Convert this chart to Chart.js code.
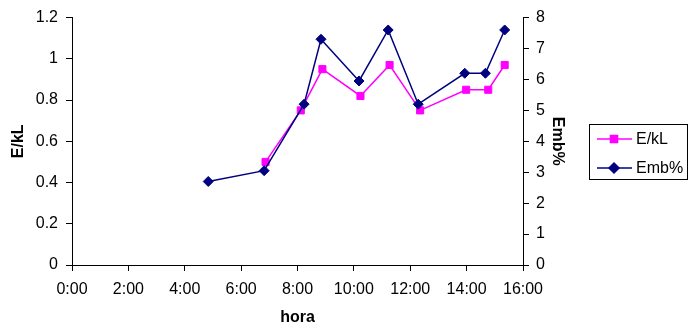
<!DOCTYPE html>
<html>
<head>
<meta charset="utf-8">
<script src="https://cdn.jsdelivr.net/npm/chart.js@4"></script>
<style>
  html, body { margin: 0; padding: 0; background: #fff; }
  #wrap { width: 689px; height: 327px; }
</style>
</head>
<body>
<div id="wrap"><canvas id="chart" width="689" height="327"></canvas></div>
<script>
// values
const eklTimes = ['6:52', '8:07', '8:53', '10:14', '11:16', '12:21', '13:59', '14:46', '15:21'];
const eklValues = [0.5, 0.75, 0.95, 0.82, 0.97, 0.75, 0.85, 0.85, 0.97];
const embTimes = ['4:50', '6:49', '8:14', '8:50', '10:11', '11:13', '12:17', '13:56', '14:40', '15:21'];
const embValues = [2.7, 3.05, 5.2, 7.3, 5.95, 7.6, 5.2, 6.2, 6.2, 7.6];
const hourTicks = [0, 2, 4, 6, 8, 10, 12, 14, 16];

const FONT = 'Liberation Sans, Arial, sans-serif';
const PINK = '#ff00ff';
const NAVY = '#000080';

function toHours(t) {
  const [h, m] = t.split(':').map(Number);
  return h + m / 60;
}
const toPoints = (times, vals) => times.map((t, i) => ({ x: toHours(t), y: vals[i] }));

// legend drawn by hand: line + marker + label, inside a framed box
const boxLegend = {
  id: 'boxLegend',
  afterDraw(chart) {
    const ctx = chart.ctx;
    const x0 = 589.5, y0 = 124.5, w = 98, h = 55;
    ctx.save();
    ctx.strokeStyle = '#000';
    ctx.lineWidth = 1;
    ctx.strokeRect(x0, y0, w, h);
    const rows = [139, 168];
    chart.data.datasets.forEach((ds, i) => {
      const y = rows[i];
      ctx.strokeStyle = ds.borderColor;
      ctx.lineWidth = 1.5;
      ctx.beginPath();
      ctx.moveTo(597, y);
      ctx.lineTo(632, y);
      ctx.stroke();
      Chart.helpers.drawPoint(ctx, {
        pointStyle: ds.pointStyle,
        radius: ds.pointRadius,
        borderWidth: 1
      }, 614, y);
      ctx.fillStyle = ds.pointBackgroundColor;
      ctx.strokeStyle = ds.pointBorderColor;
      ctx.fill();
      ctx.fillStyle = '#000';
      ctx.font = '16px ' + FONT;
      ctx.textBaseline = 'middle';
      ctx.textAlign = 'left';
      ctx.fillText(ds.label, 636, y + 1);
    });
    ctx.restore();
  }
};

const tickFont = { family: FONT, size: 16 };
const titleFont = { family: FONT, size: 16, weight: 'bold', lineHeight: 1 };
const axisGrid = { drawOnChartArea: false, drawTicks: true, tickLength: 6, color: '#000', lineWidth: 1 };
const axisBorder = { display: true, color: '#000', width: 1 };

new Chart(document.getElementById('chart'), {
  type: 'line',
  data: {
    datasets: [
      {
        label: 'E/kL',
        data: toPoints(eklTimes, eklValues),
        yAxisID: 'y',
        borderColor: PINK,
        borderWidth: 1.5,
        pointStyle: 'rect',
        pointRadius: 5,
        pointBackgroundColor: PINK,
        pointBorderColor: PINK,
        pointBorderWidth: 1,
        order: 1
      },
      {
        label: 'Emb%',
        data: toPoints(embTimes, embValues),
        yAxisID: 'y2',
        borderColor: NAVY,
        borderWidth: 1.5,
        pointStyle: 'rectRot',
        pointRadius: 5,
        pointBackgroundColor: NAVY,
        pointBorderColor: NAVY,
        pointBorderWidth: 1,
        order: 0
      }
    ]
  },
  options: {
    responsive: false,
    animation: false,
    devicePixelRatio: 1,
    layout: { padding: { top: 16, right: 116, bottom: 0, left: 0 } },
    plugins: { legend: { display: false }, tooltip: { enabled: false } },
    scales: {
      x: {
        type: 'linear',
        min: 0,
        max: 16,
        afterBuildTicks: s => { s.ticks = hourTicks.map(v => ({ value: v })); },
        afterFit: s => { s.height = 62; },
        ticks: { font: tickFont, color: '#000', padding: 9, maxRotation: 0, callback: v => v + ':00' },
        grid: axisGrid,
        border: axisBorder,
        title: { display: true, text: 'hora', font: titleFont, color: '#000', padding: { top: 0, bottom: 1 } }
      },
      y: {
        position: 'left',
        min: 0,
        max: 1.2,
        afterFit: s => { s.width = 72; },
        ticks: { stepSize: 0.2, font: tickFont, color: '#000', padding: 8, callback: v => String(+v.toFixed(1)) },
        grid: axisGrid,
        border: axisBorder,
        title: { display: true, text: 'E/kL', font: titleFont, color: '#000', padding: { top: 11, bottom: 0 } }
      },
      y2: {
        position: 'right',
        min: 0,
        max: 8,
        afterFit: s => { s.width = 50; },
        ticks: { stepSize: 1, font: tickFont, color: '#000', padding: 7 },
        grid: axisGrid,
        border: axisBorder,
        title: { display: true, text: 'Emb%', font: titleFont, color: '#000', padding: { top: 8, bottom: 0 } }
      }
    }
  },
  plugins: [boxLegend]
});
</script>
</body>
</html>
